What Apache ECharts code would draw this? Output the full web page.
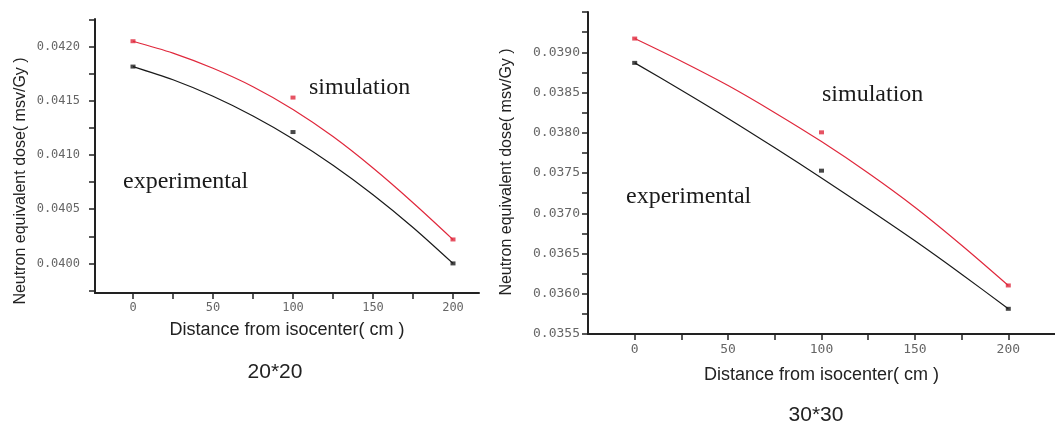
<!DOCTYPE html>
<html>
<head>
<meta charset="utf-8">
<script src="https://cdn.jsdelivr.net/npm/echarts@6/dist/echarts.min.js"></script>
<style>
  html, body { margin: 0; padding: 0; background: #fff; }
  #chart { width: 1055px; height: 424px; }
</style>
</head>
<body>
<div id="chart"></div>
<script>
// x positions (cm) of measured points and of the fitted curves
const pointX = [0, 100, 200];
const fitX = [0, 25, 50, 75, 100, 125, 150, 175, 200];

// 20*20 field
const simPts20 = [0.04205, 0.04153, 0.040221];
const expPts20 = [0.041816, 0.041212, 0.0400];
const simFit20 = [0.04205, 0.04194, 0.04180, 0.04163, 0.04142, 0.04117, 0.04088, 0.04056, 0.04022];
const expFit20 = [0.041816, 0.041694, 0.041542, 0.04136, 0.041148, 0.040906, 0.040634, 0.040332, 0.0400];

// 30*30 field
const simPts30 = [0.03917, 0.038005, 0.036103];
const expPts30 = [0.038868, 0.037529, 0.035813];
const simFit30 = [0.03917, 0.038888, 0.038586, 0.038249, 0.03789, 0.0375, 0.037075, 0.036603, 0.036103];
const expFit30 = [0.038868, 0.038528, 0.038178, 0.037813, 0.037438, 0.037053, 0.036658, 0.036243, 0.035813];

// tick labels
const xLabels = [0, 50, 100, 150, 200];
const xTicks = [0, 25, 50, 75, 100, 125, 150, 175, 200];
const yLabels20 = [0.0400, 0.0405, 0.0410, 0.0415, 0.0420];
const yTicks20 = [0.03975, 0.0400, 0.04025, 0.0405, 0.04075, 0.0410, 0.04125, 0.0415, 0.04175, 0.0420, 0.04225];
const yLabels30 = [0.0355, 0.0360, 0.0365, 0.0370, 0.0375, 0.0380, 0.0385, 0.0390];
const yTicks30 = [0.0355, 0.03575, 0.0360, 0.03625, 0.0365, 0.03675, 0.0370, 0.03725, 0.0375,
                  0.03775, 0.0380, 0.03825, 0.0385, 0.03875, 0.0390, 0.03925, 0.0395];

const RED = '#e0283c';
const BLACK = '#1a1a1a';
const yTitle = 'Neutron equivalent dose( msv/Gy )';
const xTitle = 'Distance from isocenter( cm )';

const pairs = (xs, ys) => xs.map((x, i) => [x, ys[i]]);

function xAxisOf(gridIndex, min, max, gap, size) {
    return {
        gridIndex, type: 'value', min, max,
        name: xTitle, nameLocation: 'middle', nameGap: gap,
        nameTextStyle: { fontFamily: 'Liberation Sans', fontSize: size, color: '#222' },
        axisLine: { onZero: false, lineStyle: { color: '#222', width: 2 } },
        axisTick: { customValues: xTicks, length: 6, inside: false, lineStyle: { color: '#222', width: 1.5 } },
        axisLabel: { customValues: xLabels, margin: 9, color: '#666',
                     fontFamily: 'DejaVu Sans Mono', fontSize: gridIndex ? 13 : 12 },
        splitLine: { show: false }
    };
}

function yAxisOf(gridIndex, min, max, ticks, labels, margin, size) {
    return {
        gridIndex, type: 'value', min, max,
        axisLine: { onZero: false, lineStyle: { color: '#222', width: 2 } },
        axisTick: { customValues: ticks, length: 6, lineStyle: { color: '#222', width: 1.5 } },
        axisLabel: { customValues: labels, margin, color: '#666',
                     fontFamily: 'DejaVu Sans Mono', fontSize: size,
                     formatter: v => v.toFixed(4) },
        splitLine: { show: false }
    };
}

function fitLine(i, xs, ys, color) {
    return { type: 'line', xAxisIndex: i, yAxisIndex: i, data: pairs(xs, ys),
             smooth: 0.3, showSymbol: false, silent: true,
             lineStyle: { color, width: 1.2 } };
}

function dots(i, ys, color) {
    return { type: 'scatter', xAxisIndex: i, yAxisIndex: i, data: pairs(pointX, ys),
             symbol: 'rect', symbolSize: [5, 4], itemStyle: { color } };
}

function label(text, x, y, opts) {
    return { type: 'text', x, y, style: Object.assign({
        text, fill: '#1a1a1a', align: 'left', verticalAlign: 'middle'
    }, opts) };
}

const serif = { font: '24px "Liberation Serif"' };

const option = {
    animation: false,
    backgroundColor: '#fff',
    grid: [
        { left: 95, top: 19, width: 384, height: 274 },
        { left: 588, top: 12, width: 471, height: 322 }
    ],
    xAxis: [
        xAxisOf(0, -23.75, 216.25, 28, 18),
        xAxisOf(1, -25, 225, 32, 18)
    ],
    yAxis: [
        yAxisOf(0, 0.039727, 0.042255, yTicks20, yLabels20, 15, 12),
        yAxisOf(1, 0.0355, 0.0395, yTicks30, yLabels30, 8, 13)
    ],
    series: [
        fitLine(0, fitX, simFit20, RED),
        fitLine(0, fitX, expFit20, BLACK),
        dots(0, simPts20, RED),
        dots(0, expPts20, BLACK),
        fitLine(1, fitX, simFit30, RED),
        fitLine(1, fitX, expFit30, BLACK),
        dots(1, simPts30, RED),
        dots(1, expPts30, BLACK)
    ],
    graphic: [
        // rotated axis titles
        { type: 'text', x: 21, y: 181, rotation: Math.PI / 2,
          style: { text: yTitle, font: '16px "Liberation Sans"', fill: '#222', align: 'center', verticalAlign: 'middle' } },
        { type: 'text', x: 507, y: 172, rotation: Math.PI / 2,
          style: { text: yTitle, font: '16px "Liberation Sans"', fill: '#222', align: 'center', verticalAlign: 'middle' } },
        label('simulation', 309, 88, serif),
        label('experimental', 123, 182, serif),
        label('simulation', 822, 95, serif),
        label('experimental', 626, 197, serif),
        // field size captions
        label('20*20', 275, 372, { font: '21px "Liberation Sans"', fill: '#222', align: 'center' }),
        label('30*30', 816, 415, { font: '21px "Liberation Sans"', fill: '#222', align: 'center' })
    ]
};

const chart = echarts.init(document.getElementById('chart'), null, { renderer: 'canvas' });
chart.setOption(option);
</script>
</body>
</html>
